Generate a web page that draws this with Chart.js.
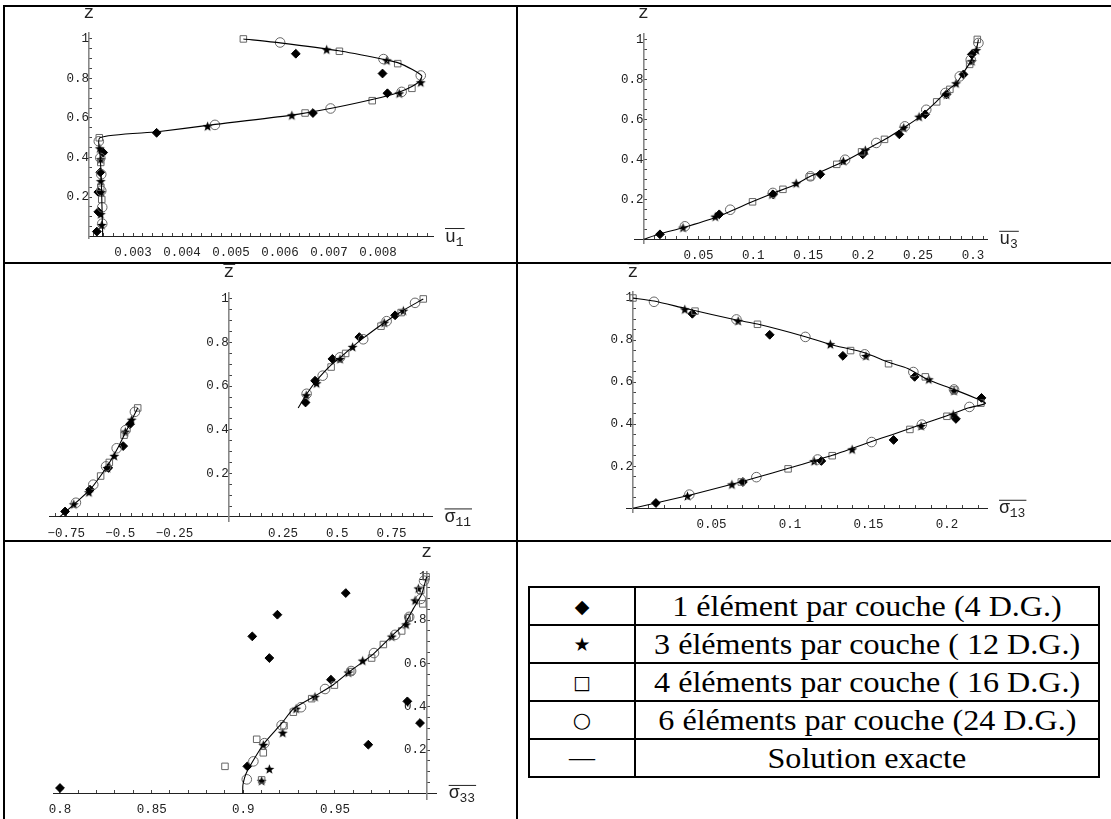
<!DOCTYPE html>
<html>
<head>
<meta charset="utf-8">
<script src="https://cdn.jsdelivr.net/npm/chart.js@4.4.0/dist/chart.umd.min.js"></script>
<style>
body { margin: 0; background: #fff; width: 1111px; height: 819px; overflow: hidden; position: relative; }
canvas { position: absolute; }
.ln { position: absolute; background: #000; }
#legend { position: absolute; left: 528px; top: 586px; width: 572px; height: 191px; border-collapse: collapse;
          font-family: "Liberation Serif", "Times New Roman", serif; font-size: 30px; color: #000; }
#legend td { border: 2px solid #000; text-align: center; padding: 0; height: 36px; line-height: 34px; white-space: nowrap; }
#legend td span { display: inline-block; transform: scaleX(1.07); }
#legend td.sym { width: 104px; font-family: "DejaVu Sans", sans-serif; font-size: 19px; }
</style>
</head>
<body>
<canvas id="c1" width="517" height="263" style="left:0;top:0"></canvas>
<canvas id="c2" width="594" height="263" style="left:517px;top:0"></canvas>
<canvas id="c3" width="517" height="278" style="left:0;top:263px"></canvas>
<canvas id="c4" width="594" height="278" style="left:517px;top:263px"></canvas>
<canvas id="c5" width="517" height="278" style="left:0;top:541px"></canvas>

<div class="ln" style="left:3px;top:5px;width:1108px;height:2px"></div>
<div class="ln" style="left:3px;top:262px;width:1108px;height:2px"></div>
<div class="ln" style="left:3px;top:540px;width:1108px;height:2px"></div>
<div class="ln" style="left:3px;top:5px;width:2px;height:814px"></div>
<div class="ln" style="left:516px;top:5px;width:2px;height:814px"></div>

<table id="legend">
  <tr><td class="sym">&#9670;</td><td><span>1 élément par couche (4 D.G.)</span></td></tr>
  <tr><td class="sym">&#9733;</td><td><span>3 éléments par couche ( 12 D.G.)</span></td></tr>
  <tr><td class="sym">&#9633;</td><td><span>4 éléments par couche ( 16 D.G.)</span></td></tr>
  <tr><td class="sym" style="font-size:21px">&#9675;</td><td><span>6 éléments par couche (24 D.G.)</span></td></tr>
  <tr><td class="sym" style="font-family:'Liberation Serif';font-size:26px">&mdash;</td><td><span>Solution exacte</span></td></tr>
</table>

<script>
// z positions of the numerical results (same for every panel)
var zDiamond = [0.025, 0.125, 0.225, 0.325, 0.425, 0.525, 0.625, 0.725, 0.825, 0.925];
var zStar = [0.056, 0.111, 0.222, 0.278, 0.389, 0.444, 0.556, 0.611, 0.722, 0.778, 0.889, 0.944];
var zCircle = [0.065, 0.148, 0.232, 0.315, 0.398, 0.482, 0.565, 0.648, 0.732, 0.815, 0.898, 0.982];

var yTickLabels = [0.2, 0.4, 0.6, 0.8, 1];

// u1
var u1CurveX = [0.00238, 0.00237, 0.00236, 0.00235, 0.00233, 0.00232, 0.0035, 0.0046, 0.0062, 0.0071, 0.0079, 0.0084, 0.0087, 0.00886, 0.00889, 0.0087, 0.0084, 0.0081, 0.0072, 0.0060, 0.00525];
var u1CurveZ = [0, 0.1, 0.2, 0.3, 0.4, 0.5, 0.53, 0.565, 0.613, 0.652, 0.695, 0.728, 0.76, 0.79, 0.813, 0.845, 0.88, 0.897, 0.94, 0.98, 1.0];
var u1Diamond = [0.00226, 0.00229, 0.00229, 0.00233, 0.00239, 0.00348, 0.00667, 0.00819, 0.00809, 0.00632];
var u1Star = [0.00236, 0.00234, 0.00235, 0.00234, 0.00234, 0.00232, 0.00452, 0.00624, 0.00843, 0.00887, 0.00818, 0.00695];
var u1SquareZ = [0.1875, 0.25, 0.375, 0.5, 0.625, 0.6875, 0.75, 0.875, 0.9375, 1.0];
var u1Square = [0.00236, 0.00234, 0.00234, 0.00231, 0.00651, 0.00788, 0.00869, 0.0084, 0.00721, 0.00525];
var u1Circle = [0.00237, 0.00237, 0.00235, 0.00235, 0.00233, 0.0023, 0.00467, 0.00703, 0.00848, 0.00887, 0.00811, 0.0060];
var u1TickLabels = [0.003, 0.004, 0.005, 0.006, 0.007, 0.008];

// u3
var u3CurveX = [0, 0.015, 0.036, 0.066, 0.1, 0.118, 0.139, 0.152, 0.183, 0.2, 0.22, 0.238, 0.251, 0.267, 0.279, 0.285, 0.291, 0.298, 0.303, 0.305];
var u3CurveZ = [0, 0.028, 0.058, 0.11, 0.19, 0.23, 0.276, 0.315, 0.39, 0.44, 0.5, 0.562, 0.61, 0.69, 0.755, 0.78, 0.83, 0.89, 0.946, 1.0];
var u3Diamond = [0.015, 0.069, 0.118, 0.161, 0.1997, 0.233, 0.2565, 0.276, 0.2914, 0.299];
var u3Star = [0.036, 0.0654, 0.117, 0.139, 0.182, 0.202, 0.237, 0.251, 0.276, 0.2846, 0.299, 0.303];
var u3SquareZ = [0.1875, 0.25, 0.3125, 0.375, 0.4375, 0.5, 0.6875, 0.75, 0.875, 1.0];
var u3Square = [0.0993, 0.127, 0.152, 0.176, 0.1986, 0.2195, 0.267, 0.279, 0.297, 0.304];
var u3Circle = [0.0377, 0.079, 0.1178, 0.152, 0.1836, 0.212, 0.238, 0.2575, 0.275, 0.288, 0.298, 0.305];
var u3TickLabels = [0.05, 0.1, 0.15, 0.2, 0.25, 0.3];

// sigma11 (null = break between the two layers)
var s11CurveX = [-0.78, -0.70, -0.64, -0.59, -0.55, -0.515, -0.485, -0.455, -0.42, null, 0.32, 0.36, 0.40, 0.435, 0.475, 0.513, 0.57, 0.62, 0.72, 0.80, 0.897];
var s11CurveZ = [0, 0.07, 0.125, 0.19, 0.25, 0.31, 0.37, 0.43, 0.5, null, 0.5, 0.565, 0.62, 0.66, 0.70, 0.73, 0.78, 0.82, 0.893, 0.945, 1.0];
var s11Diamond = [-0.755, -0.64, -0.556, -0.487, -0.456, 0.354, 0.398, 0.478, 0.602, 0.767];
var s11Star = [-0.715, -0.645, -0.56, -0.528, -0.477, -0.448, 0.357, 0.405, 0.513, 0.571, 0.717, 0.805];
var s11SquareZ = [0.1875, 0.25, 0.375, 0.5, 0.6875, 0.75, 0.875, 0.9375, 1.0];
var s11Square = [-0.591, -0.551, -0.483, -0.42, 0.472, 0.539, 0.702, 0.795, 0.897];
var s11Circle = [-0.705, -0.625, -0.566, -0.517, -0.476, -0.433, 0.359, 0.433, 0.513, 0.62, 0.728, 0.859];
var s11TickLabels = [-0.75, -0.5, -0.25, 0.25, 0.5, 0.75];

// sigma13
var s13CurveX = [0, 0.0134, 0.033, 0.0659, 0.0793, 0.1098, 0.1257, 0.1476, 0.1628, 0.175, 0.1884, 0.2045, 0.2245, 0.214, 0.2, 0.184, 0.165, 0.152, 0.127, 0.099, 0.0786, 0.063, 0.036, 0];
var s13CurveZ = [1, 0.986, 0.951, 0.895, 0.876, 0.816, 0.779, 0.74, 0.694, 0.665, 0.61, 0.565, 0.5, 0.478, 0.44, 0.4, 0.35, 0.318, 0.252, 0.19, 0.146, 0.114, 0.062, 0];
var s13Diamond = [0.0146, 0.07, 0.12, 0.166, 0.2057, 0.222, 0.1794, 0.1337, 0.0871, 0.0378];
var s13Star = [0.0347, 0.063, 0.1154, 0.1396, 0.1835, 0.204, 0.2045, 0.1884, 0.1484, 0.1257, 0.067, 0.033];
var s13SquareZ = [0.125, 0.1875, 0.25, 0.375, 0.4375, 0.5, 0.5625, 0.625, 0.6875, 0.75, 0.875, 0.9375, 1.0];
var s13Square = [0.069, 0.0988, 0.1269, 0.1764, 0.2, 0.2216, 0.2045, 0.1862, 0.1628, 0.1386, 0.0793, 0.0395, 0];
var s13Circle = [0.0359, 0.0786, 0.1176, 0.152, 0.184, 0.2143, 0.2045, 0.1786, 0.1476, 0.1098, 0.0659, 0.0134];
var s13TickLabels = [0.05, 0.1, 0.15, 0.2];

// sigma33
var s33CurveX = [0.8997, 0.8998, 0.9019, 0.9109, 0.9209, 0.9273, 0.9391, 0.9491, 0.9582, 0.9655, 0.9709, 0.9818, 0.9882, 0.9927, 0.9973, 0.9991, 1.0];
var s33CurveZ = [0, 0.04, 0.099, 0.226, 0.323, 0.39, 0.45, 0.502, 0.564, 0.609, 0.643, 0.733, 0.785, 0.852, 0.919, 0.972, 1.0];
var s33Diamond = [0.8, 0.9022, 0.9682, 0.9964, 0.9895, 0.9478, 0.9142, 0.9049, 0.9186, 0.9559];
var s33Star = [0.91, 0.9142, 0.9109, 0.9215, 0.9288, 0.9391, 0.9573, 0.9651, 0.981, 0.9888, 0.9937, 0.9955];
var s33SquareZ = [0.0625, 0.125, 0.1875, 0.25, 0.3125, 0.375, 0.4375, 0.5, 0.5625, 0.625, 0.6875, 0.75, 0.8125, 0.875, 0.9375, 1.0];
var s33Square = [0.91, 0.89, 0.9109, 0.9073, 0.9222, 0.9273, 0.9373, 0.9497, 0.9586, 0.97, 0.9764, 0.9864, 0.9906, 0.9979, 0.9968, 0.9997];
var s33Circle = [0.9019, 0.9055, 0.9115, 0.9209, 0.9315, 0.9446, 0.9588, 0.9713, 0.9828, 0.9905, 0.9968, 0.9986];
var s33TickLabels = [0.8, 0.85, 0.9, 0.95];

Chart.defaults.font.family = '"Liberation Mono", monospace';

function pts(xs, zs) {
  return xs.map(function(x, i) { return {x: x, y: zs[i]}; });
}

function fmt(v) {
  var s = String(+v.toFixed(6));
  return s.charAt(0) === '-' ? '\u2212' + s.slice(1) : s;
}

function labelIf(list) {
  return function(v) {
    for (var i = 0; i < list.length; i++) {
      if (Math.abs(v - list[i]) < 1e-9) return fmt(v);
    }
    return '';
  };
}

// filled five point star for the 3 element series
function starImage(r) {
  var c = document.createElement('canvas');
  var s = Math.ceil(r * 2) + 2;
  c.width = s; c.height = s;
  var g = c.getContext('2d');
  g.beginPath();
  for (var i = 0; i < 10; i++) {
    var rr = i % 2 ? r * 0.42 : r;
    var a = -Math.PI / 2 + i * Math.PI / 5;
    g.lineTo(s / 2 + rr * Math.cos(a), s / 2 + rr * Math.sin(a));
  }
  g.closePath();
  g.fillStyle = '#000';
  g.fill();
  return c;
}
var star = starImage(5.2);

function drawName(ctx, n, x, y, align) {
  ctx.font = '18px "Liberation Mono"';
  var w1 = ctx.measureText(n.base).width;
  ctx.font = '13px "Liberation Mono"';
  var w2 = n.sub ? ctx.measureText(n.sub).width : 0;
  var left = align === 'center' ? x - (w1 + w2) / 2 : x;
  ctx.textAlign = 'left';
  ctx.textBaseline = 'alphabetic';
  ctx.font = '18px "Liberation Mono"';
  ctx.fillText(n.base, left, y + 5);
  if (n.sub) {
    ctx.font = '13px "Liberation Mono"';
    ctx.fillText(n.sub, left + w1, y + 9);
  }
  if (n.bar) {
    ctx.beginPath();
    ctx.moveTo(left, y - 8);
    ctx.lineTo(left + w1 + w2 + 1, y - 8);
    ctx.stroke();
  }
}

var axisNames = {
  id: 'axisNames',
  afterDraw: function(chart, args, opts) {
    var ctx = chart.ctx, a = chart.chartArea;
    var yAxisPx = chart.scales.x.getPixelForValue(opts.yAt);
    var xAxisPx = chart.scales.y.getPixelForValue(0);
    ctx.save();
    ctx.fillStyle = '#222';
    ctx.strokeStyle = '#222';
    ctx.lineWidth = 1;
    drawName(ctx, opts.yName, yAxisPx, a.top - 20, 'center');
    drawName(ctx, opts.xName, a.right + 12, xAxisPx, 'left');
    ctx.restore();
  }
};

function makeChart(id, o) {
  return new Chart(document.getElementById(id), {
    type: 'scatter',
    data: {
      datasets: [
        { label: 'Solution exacte', data: pts(o.curveX, o.curveZ), showLine: true, spanGaps: false,
          borderColor: '#000', borderWidth: 1.1, pointRadius: 0, tension: 0.2, clip: false },
        { label: '4 éléments par couche ( 16 D.G.)', data: pts(o.sq, o.sqZ), pointStyle: 'rect', pointRadius: 4.6,
          borderColor: '#666', backgroundColor: 'rgba(255,255,255,0)', borderWidth: 1, clip: false },
        { label: '6 éléments par couche (24 D.G.)', data: pts(o.circle, zCircle), pointStyle: 'circle', pointRadius: 4.8,
          borderColor: '#666', backgroundColor: 'rgba(255,255,255,0)', borderWidth: 1, clip: false },
        { label: '3 éléments par couche ( 12 D.G.)', data: pts(o.star, zStar), pointStyle: star, pointRadius: 5, clip: false },
        { label: '1 élément par couche (4 D.G.)', data: pts(o.diamond, zDiamond), pointStyle: 'rectRot', pointRadius: 4.4,
          borderColor: '#000', backgroundColor: '#000', borderWidth: 1, clip: false }
      ]
    },
    options: {
      responsive: false,
      animation: false,
      events: [],
      layout: { padding: o.pad },
      plugins: {
        legend: { display: false },
        tooltip: { enabled: false },
        axisNames: { yAt: o.yAt, xName: o.xName, yName: o.yName }
      },
      scales: {
        x: {
          type: 'linear', min: o.xMin, max: o.xMax, position: { y: 0 },
          border: { color: '#222', width: 1 },
          grid: { drawOnChartArea: false, drawTicks: true, tickLength: -4, tickColor: '#444' },
          ticks: { stepSize: o.xStep, autoSkip: false, maxRotation: 0, includeBounds: false, padding: 13,
                   color: '#222', font: { size: 12.5 }, callback: labelIf(o.xLabels) }
        },
        y: {
          type: 'linear', min: o.yMin, max: o.yMax, position: { x: o.yAt },
          border: { color: '#888', width: 1.6 },
          grid: { drawOnChartArea: false, drawTicks: true, tickLength: -4, tickColor: '#444' },
          ticks: { stepSize: 0.05, autoSkip: false, includeBounds: false, padding: 12,
                   color: '#222', font: { size: 12.5 }, callback: labelIf(yTickLabels) }
        }
      }
    },
    plugins: [axisNames]
  });
}

makeChart('c1', {
  curveX: u1CurveX, curveZ: u1CurveZ, diamond: u1Diamond, star: u1Star, sq: u1Square, sqZ: u1SquareZ, circle: u1Circle,
  xMin: 0.0021, xMax: 0.00912, yMin: -0.011, yMax: 1.03, yAt: 0.0021, xStep: 0.0002, xLabels: u1TickLabels,
  pad: { left: 89, right: 84, top: 33, bottom: 24.3 },
  xName: { base: 'u', sub: '1', bar: true }, yName: { base: 'z' }
});

makeChart('c2', {
  curveX: u3CurveX, curveZ: u3CurveZ, diamond: u3Diamond, star: u3Star, sq: u3Square, sqZ: u3SquareZ, circle: u3Circle,
  xMin: -0.008, xMax: 0.313, yMin: -0.021, yMax: 1.03, yAt: 0, xStep: 0.01, xLabels: u3TickLabels,
  pad: { left: 117.7, right: 123.8, top: 33.4, bottom: 14.4 },
  xName: { base: 'u', sub: '3', bar: true }, yName: { base: 'z' }
});

makeChart('c3', {
  curveX: s11CurveX, curveZ: s11CurveZ, diamond: s11Diamond, star: s11Star, sq: s11Square, sqZ: s11SquareZ, circle: s11Circle,
  xMin: -0.825, xMax: 0.94, yMin: -0.021, yMax: 1.03, yAt: 0, xStep: 0.05, xLabels: s11TickLabels,
  pad: { left: 49.9, right: 84.4, top: 29.4, bottom: 14.5 },
  xName: { base: '\u03c3', sub: '11', bar: true }, yName: { base: 'z', bar: true }
});

makeChart('c4', {
  curveX: s13CurveX, curveZ: s13CurveZ, diamond: s13Diamond, star: s13Star, sq: s13Square, sqZ: s13SquareZ, circle: s13Circle,
  xMin: -0.004, xMax: 0.2255, yMin: -0.022, yMax: 1.03, yAt: 0, xStep: 0.01, xLabels: s13TickLabels,
  pad: { left: 109.7, right: 124, top: 28.7, bottom: 28.1 },
  xName: { base: '\u03c3', sub: '13', bar: true }, yName: { base: 'z', bar: true }
});

makeChart('c5', {
  curveX: s33CurveX, curveZ: s33CurveZ, diamond: s33Diamond, star: s33Star, sq: s33Square, sqZ: s33SquareZ, circle: s33Circle,
  xMin: 0.7964, xMax: 1.0055, yMin: -0.028, yMax: 1.024, yAt: 1.0, xStep: 0.01, xLabels: s33TickLabels,
  pad: { left: 53.4, right: 80.3, top: 30.6, bottom: 12.3 },
  xName: { base: '\u03c3', sub: '33', bar: true }, yName: { base: 'z' }
});
</script>
</body>
</html>
